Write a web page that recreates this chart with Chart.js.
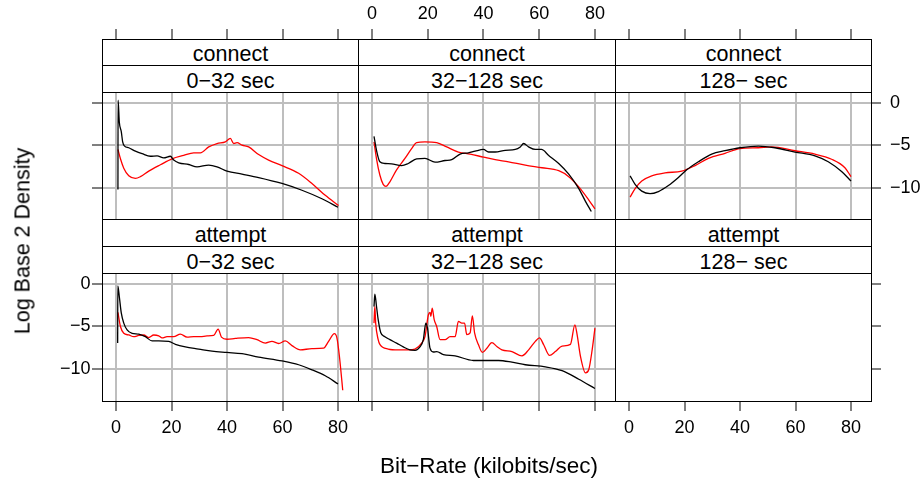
<!DOCTYPE html>
<html><head><meta charset="utf-8">
<script src="https://cdn.jsdelivr.net/npm/chart.js@4/dist/chart.umd.min.js"></script>
<style>
html,body{margin:0;padding:0;background:#fff;}
#root{position:relative;width:924px;height:481px;overflow:hidden;background:#fff;font-family:"Liberation Sans",Arial,Helvetica,sans-serif;}
#root canvas{position:absolute;}
.strip{position:absolute;box-sizing:border-box;border:1px solid #000;background:#fff;text-align:center;font-size:21.5px;color:#000;z-index:5;white-space:nowrap;}
.frame{position:absolute;box-sizing:border-box;border:1px solid #000;z-index:6;pointer-events:none;}
.title{position:absolute;font-size:21.5px;color:#000;white-space:nowrap;z-index:7;}
</style></head><body><div id="root"></div>
<script>
// ---------- data ----------
const types = ["connect", "attempt"];
const durations = ["0\u221232 sec", "32\u2212128 sec", "128\u2212 sec"];
const xTicks = [0, 20, 40, 60, 80];
const yTicks = [0, -5, -10];
const xTitle = "Bit\u2212Rate (kilobits/sec)";
const yTitle = "Log Base 2 Density";

const connect_0_32_black = [[0.7,-10.2],[0.75,0.3],[1.2,-2.3],[1.9,-3.4],[2.4,-4.6],[3.1,-5.1],[4.6,-5.3],[7,-5.7],[9.4,-6.0],[12.4,-6.3],[14.8,-6.25],[17.2,-6.5],[19.6,-6.3],[20.8,-6.75],[22.6,-7.07],[26.2,-7.27],[29.2,-7.54],[33.4,-7.34],[36.4,-7.54],[40,-8.05],[45.4,-8.4],[51.4,-8.8],[59.8,-9.5],[67,-10.3],[74.2,-11.3],[80,-12.3]];
const connect_0_32_red = [[0.7,-5.5],[1.6,-6.6],[2.8,-7.7],[4.6,-8.6],[7,-8.9],[8.8,-8.7],[11.8,-8.05],[16,-7.3],[20.2,-6.6],[24.4,-6.2],[28,-5.9],[30.4,-5.9],[33.4,-5.2],[36.4,-4.8],[39.4,-4.6],[41.2,-4.2],[42.4,-4.8],[43.6,-4.7],[45.4,-5.0],[47.8,-5.2],[51.4,-6.1],[55,-6.75],[59.8,-7.4],[65.8,-8.3],[70.6,-9.5],[75.4,-10.9],[80.2,-12.1]];

const connect_32_128_black = [[0.7,-3.95],[1.6,-5.6],[2.8,-6.95],[4.6,-7.15],[7,-7.2],[10.6,-7.4],[13,-7.15],[16,-6.6],[19,-6.55],[22.6,-7.0],[26.2,-6.8],[28.6,-6.7],[31.6,-6.05],[34.6,-5.9],[37,-5.7],[40,-5.5],[41.8,-5.8],[44.2,-5.8],[47.8,-5.6],[51.4,-5.5],[53.2,-5.2],[54.4,-4.8],[56.2,-5.2],[58.6,-5.5],[60.8,-5.5],[63.4,-6.2],[67,-7.15],[70.6,-8.4],[74.2,-10.1],[76.6,-11.6],[78.7,-12.8]];
const connect_32_128_red = [[0.7,-4.6],[1.6,-6.6],[2.8,-8.5],[4,-9.6],[5,-9.85],[6.4,-9.3],[8.8,-7.9],[11.8,-6.55],[14.2,-5.4],[16,-4.7],[19,-4.6],[23.2,-4.7],[26.8,-5.2],[31,-5.8],[35.2,-6.05],[40,-6.4],[44.2,-6.7],[49,-6.95],[55,-7.35],[61,-7.65],[67,-8.0],[70.6,-8.7],[74.2,-9.9],[77.8,-11.45],[80,-12.5]];

const connect_128_black = [[0.4,-8.6],[2.2,-9.6],[4.6,-10.4],[7.6,-10.7],[10.6,-10.45],[14.2,-9.75],[17.8,-8.8],[20.8,-7.9],[25,-6.95],[29.8,-6.05],[34.6,-5.65],[40,-5.3],[46.6,-5.1],[52.6,-5.3],[59.8,-5.8],[67,-6.25],[71.8,-6.95],[76.6,-8.1],[80,-9.2]];
const connect_128_red = [[0.4,-11.1],[2.2,-10.1],[4.6,-9.2],[8.2,-8.6],[13,-8.25],[19,-8.05],[23.8,-7.4],[28.6,-6.55],[34.6,-5.95],[40,-5.4],[46.6,-5.3],[51.4,-5.2],[59.8,-5.65],[67,-6.05],[73,-6.65],[77.8,-7.65],[80,-8.7]];

const attempt_0_32_black = [[0.6,-6.95],[0.65,-0.23],[1.2,-1.5],[1.9,-3.4],[2.8,-4.6],[4,-5.4],[5.8,-5.8],[8.2,-5.9],[10.6,-6.2],[13,-6.7],[15.4,-6.7],[19,-6.75],[21.4,-7.1],[25,-7.4],[29.8,-7.65],[34.6,-7.9],[40,-8.05],[45.4,-8.2],[51.4,-8.6],[59.8,-9.05],[65.8,-9.5],[70.6,-10.1],[75.4,-10.8],[80,-11.75]];
const attempt_0_32_red = [[0.7,-3.35],[1.6,-5.0],[2.8,-5.8],[4.6,-6.0],[6.4,-6.2],[8.2,-6.05],[10,-6.0],[11.8,-6.3],[13.6,-6.0],[15.4,-6.1],[16.6,-6.35],[18.4,-6.2],[20.8,-6.2],[23.2,-5.9],[25.6,-6.25],[28,-6.2],[30.4,-6.2],[32.8,-6.1],[35.2,-6.05],[36.8,-5.3],[38,-6.25],[40,-6.5],[43,-6.4],[47.8,-6.3],[50.8,-6.55],[53.8,-6.95],[56.2,-6.75],[58.6,-7.0],[61,-6.7],[63.4,-7.25],[66.4,-7.75],[70.6,-7.6],[74.8,-7.55],[76.6,-6.75],[78.7,-5.85],[79.6,-6.35],[80.5,-8.5],[81.7,-12.5]];

const attempt_32_128_black = [[0.7,-2.65],[1,-1.2],[1.6,-2.65],[2.2,-4.2],[3.1,-5.7],[4.6,-6.2],[6.4,-6.55],[8.8,-6.95],[11.2,-7.4],[13.6,-7.75],[15.4,-7.8],[17.2,-7.4],[18.4,-6.55],[19.3,-4.6],[19.9,-5.2],[20.8,-7.55],[22,-8.0],[23.2,-7.95],[25.6,-8.3],[29.8,-8.45],[36.4,-9.0],[45.4,-9.0],[50.2,-9.2],[55,-9.5],[62.2,-9.75],[68.2,-10.2],[74.2,-11.2],[80,-12.3]];
const attempt_32_128_red = [[0.7,-4.6],[1,-2.65],[1.3,-4.6],[2.2,-6.55],[2.8,-7.1],[5.8,-7.65],[9.4,-7.75],[13,-7.75],[15.4,-7.65],[17.8,-6.95],[19,-6.2],[20.2,-3.65],[20.8,-3.35],[21.1,-3.8],[21.6,-2.85],[22.3,-4.2],[23.2,-5.0],[24.4,-6.55],[26.2,-6.55],[28,-6.2],[29.8,-6.2],[31,-4.4],[32.2,-4.6],[33.2,-4.6],[34,-5.95],[35.2,-5.75],[36,-3.75],[36.8,-5.75],[38.2,-7.15],[39.6,-8.05],[41.2,-7.55],[43,-6.9],[44.8,-7.35],[46.6,-7.75],[50.2,-7.95],[53.8,-8.45],[56.2,-7.75],[58.6,-6.75],[60.1,-6.35],[61.6,-7.15],[63.7,-8.4],[65.8,-7.95],[68.2,-7.3],[71.2,-7.1],[72.8,-4.8],[73.6,-5.95],[74.8,-8.5],[76.6,-10.45],[77.8,-10.05],[79,-7.75],[80,-5.2]];

const panelSeries = [
  [[connect_0_32_black, connect_0_32_red], [connect_32_128_black, connect_32_128_red], [connect_128_black, connect_128_red]],
  [[attempt_0_32_black, attempt_0_32_red], [attempt_32_128_black, attempt_32_128_red], null]
];

// ---------- layout ----------
const root = document.getElementById('root');
const colEdge = [102, 358, 615, 871];
const rows = [
  {stripTop: 39, stripMid: 65, plotTop: 92, bottom: 219, areaTop: 39, yMax: 7.494, yMin: -13.68},
  {stripTop: 219, stripMid: 246, plotTop: 273, bottom: 401, areaTop: 273, yMax: 1.294, yMin: -13.765}
];
const X_MIN = -5.045, X_MAX = 87.2;
const M = 80;
const TICKLEN = 10;
const GRID = '#bebebe';
const FONT = {family: '"Liberation Sans", Arial, Helvetica, sans-serif', size: 18};
const fmt = v => (v < 0 ? '\u2212' + Math.abs(v) : String(v));

function addDiv(cls, l, t, w, h, text) {
  const d = document.createElement('div');
  d.className = cls;
  d.style.left = l + 'px'; d.style.top = t + 'px';
  d.style.width = w + 'px'; d.style.height = h + 'px';
  if (text !== undefined) {
    d.style.lineHeight = (h - 2) + 'px';
    d.style.paddingTop = '2px';
    d.textContent = text;
  }
  root.appendChild(d);
}

// axis spec per panel: [xPos, xTicksOn, xLabels, yPos, yTicksOn, yLabels, gridOn]
const axisSpec = [
  [['top', true, false, 'left', true, false, true], ['top', true, true, 'left', false, false, true], ['top', true, false, 'right', true, true, true]],
  [['bottom', true, true, 'left', true, true, true], ['bottom', true, false, 'left', false, false, true], ['bottom', true, true, 'right', true, false, false]]
];

for (let r = 0; r < 2; r++) {
  const R = rows[r];
  for (let c = 0; c < 3; c++) {
    const left = colEdge[c], w = colEdge[c + 1] - colEdge[c];
    addDiv('strip', left, R.stripTop, w + 1, R.stripMid - R.stripTop + 1, types[r]);
    addDiv('strip', left, R.stripMid, w + 1, R.plotTop - R.stripMid + 1, durations[c]);
    addDiv('frame', left, R.plotTop, w + 1, R.bottom - R.plotTop + 1);

    const areaH = R.bottom - R.areaTop;
    const cv = document.createElement('canvas');
    cv.width = w + 2 * M; cv.height = areaH + 2 * M;
    cv.style.left = (left - M) + 'px'; cv.style.top = (R.areaTop - M) + 'px';
    cv.style.width = cv.width + 'px'; cv.style.height = cv.height + 'px';
    root.appendChild(cv);

    const [xPos, xTk, xLab, yPos, yTk, yLab, gridOn] = axisSpec[r][c];
    const pad = {top: 0, bottom: 0, left: 0, right: 0};
    pad[xPos === 'top' ? 'bottom' : 'top'] = M;
    pad[yPos === 'left' ? 'right' : 'left'] = M;

    const series = panelSeries[r][c];
    const datasets = series ? series.map((s, i) => ({
      data: s.map(p => ({x: p[0], y: p[1]})),
      borderColor: i === 0 ? '#000000' : '#ff0000',
      borderWidth: 1.3,
      pointRadius: 0,
      fill: false,
      cubicInterpolationMode: 'monotone'
    })) : [];

    new Chart(cv, {
      type: 'line',
      data: {datasets},
      options: {
        responsive: false, animation: false, devicePixelRatio: 1,
        layout: {padding: pad},
        plugins: {legend: {display: false}, tooltip: {enabled: false}},
        scales: {
          x: {
            type: 'linear', position: xPos, min: X_MIN, max: X_MAX,
            afterBuildTicks: a => { a.ticks = xTicks.map(v => ({value: v})); },
            afterFit: a => { a.height = M; },
            ticks: {display: xLab, autoSkip: false, maxRotation: 0, color: '#000', font: FONT,
              padding: xPos === 'top' ? 4 : 6, callback: v => fmt(v)},
            grid: {display: true, drawOnChartArea: gridOn, color: GRID, lineWidth: 2,
              drawTicks: xTk, tickLength: TICKLEN, tickColor: '#000', tickWidth: 1},
            border: {display: false}
          },
          y: {
            type: 'linear', position: yPos, min: R.yMin, max: R.yMax,
            afterBuildTicks: a => { a.ticks = yTicks.map(v => ({value: v})); },
            afterFit: a => { a.width = M; },
            ticks: {display: yLab, autoSkip: false, color: '#000', font: FONT,
              padding: yPos === 'left' ? 1.5 : 9, callback: v => fmt(v)},
            grid: {display: true, drawOnChartArea: gridOn, color: GRID, lineWidth: 2,
              drawTicks: yTk, tickLength: TICKLEN, tickColor: '#000', tickWidth: 1},
            border: {display: false}
          }
        }
      }
    });
  }
}

// axis titles
const xt = document.createElement('div');
xt.className = 'title'; xt.textContent = xTitle;
xt.style.fontSize = '22.5px';
xt.style.left = '489px'; xt.style.top = '466px'; xt.style.transform = 'translate(-50%,-50%)';
root.appendChild(xt);
const yt = document.createElement('div');
yt.className = 'title'; yt.textContent = yTitle;
yt.style.left = '23px'; yt.style.top = '241px'; yt.style.transform = 'translate(-50%,-50%) rotate(-90deg)';
root.appendChild(yt);
</script>
</body></html>
